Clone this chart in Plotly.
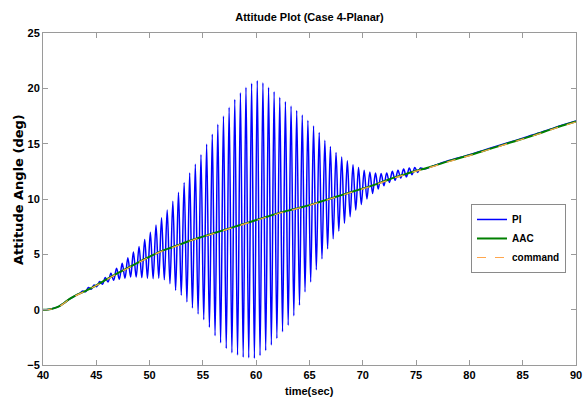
import plotly.graph_objects as go

# ---------------- data ----------------
x_ticks = [40, 45, 50, 55, 60, 65, 70, 75, 80, 85, 90]
y_ticks = [-5, 0, 5, 10, 15, 20, 25]

t_ref = [40, 40.5, 41, 41.5, 42, 42.5, 43, 44, 45, 46, 47, 48, 49, 50, 51, 52, 53, 54,
         55, 56, 57, 58, 59, 60, 61, 62, 63, 64, 65, 66, 67, 68, 69, 70, 71, 72, 73,
         74, 75, 76, 78, 80, 82, 84, 86, 88, 90]
aac = [0.0, 0.02, 0.12, 0.3, 0.62, 0.97, 1.25, 1.7, 2.2, 2.75, 3.3, 3.8, 4.3, 4.8, 5.25,
       5.6, 5.95, 6.3, 6.6, 6.9, 7.2, 7.5, 7.8, 8.1, 8.4, 8.7, 8.95, 9.2, 9.45, 9.75,
       10.05, 10.35, 10.65, 10.95, 11.25, 11.6, 11.95, 12.25, 12.55, 12.8, 13.4, 13.95,
       14.55, 15.15, 15.75, 16.4, 17.0]
command = [0.0, 0.01, 0.1, 0.28, 0.6, 0.95, 1.23, 1.68, 2.18, 2.72, 3.27, 3.77, 4.27,
           4.77, 5.22, 5.57, 5.92, 6.27, 6.57, 6.87, 7.17, 7.47, 7.77, 8.07, 8.37, 8.67,
           8.92, 9.17, 9.42, 9.72, 10.02, 10.32, 10.62, 10.92, 11.22, 11.57, 11.92,
           12.22, 12.52, 12.77, 13.37, 13.92, 14.52, 15.12, 15.72, 16.37, 16.97]

# PI response: smooth start, oscillation peaks / troughs, smooth end
pi_start_t = [40, 40.5, 41, 41.5, 42, 42.5, 43, 43.4]
pi_start_v = [0.0, 0.02, 0.12, 0.3, 0.62, 0.97, 1.25, 1.45]

pi_peak_t = [43.73, 44.26, 44.79, 45.32, 45.84, 46.37, 46.90, 47.43, 47.96, 48.48,
             49.01, 49.54, 50.07, 50.60, 51.12, 51.65, 52.18, 52.71, 53.24, 53.76,
             54.29, 54.82, 55.35, 55.88, 56.40, 56.93, 57.46, 57.99, 58.52, 59.04,
             59.57, 60.10, 60.63, 61.16, 61.68, 62.21, 62.74, 63.27, 63.80, 64.32,
             64.85, 65.38, 65.91, 66.44, 66.96, 67.49, 68.02, 68.55, 69.08, 69.60,
             70.13, 70.66, 71.19, 71.72, 72.24, 72.77, 73.30, 73.83, 74.36, 74.88,
             75.41]
pi_peak_v = [1.68, 2.0, 2.22, 2.55, 2.9, 3.3, 3.75, 4.2, 4.7, 5.2,
             5.7, 6.35, 7.0, 7.65, 8.3, 9.0, 9.8, 10.6, 11.5, 12.35,
             13.15, 14.0, 14.95, 15.85, 16.75, 17.5, 18.3, 19.0, 19.6, 20.1,
             20.45, 20.7, 20.5, 20.1, 19.7, 19.2, 18.8, 18.4, 18.0, 17.6,
             17.1, 16.6, 16.0, 15.3, 14.75, 14.2, 13.8, 13.45, 13.1, 12.85,
             12.6, 12.45, 12.35, 12.3, 12.35, 12.5, 12.6, 12.7, 12.8, 12.85,
             12.8]

pi_trough_t = [43.99, 44.52, 45.05, 45.58, 46.10, 46.63, 47.16, 47.69, 48.22, 48.74,
               49.27, 49.80, 50.33, 50.86, 51.38, 51.91, 52.44, 52.97, 53.50, 54.02,
               54.55, 55.08, 55.61, 56.14, 56.66, 57.19, 57.72, 58.25, 58.78, 59.30,
               59.83, 60.36, 60.89, 61.42, 61.94, 62.47, 63.00, 63.53, 64.06, 64.58,
               65.11, 65.64, 66.17, 66.70, 67.22, 67.75, 68.28, 68.81, 69.34, 69.86,
               70.39, 70.92, 71.45, 71.98, 72.50, 73.03, 73.56, 74.09, 74.62, 75.14]
pi_trough_v = [1.62, 1.85, 2.08, 2.3, 2.5, 2.65, 2.75, 2.85, 2.95, 2.95,
               2.9, 2.85, 2.8, 2.85, 2.7, 2.35, 1.75, 1.3, 0.7, 0.15,
               -0.4, -0.9, -1.6, -2.35, -3.0, -3.5, -3.9, -4.1, -4.3, -4.35,
               -4.4, -4.15, -3.7, -3.2, -2.6, -2.0, -1.4, -0.55, 0.4, 1.6,
               2.5, 3.6, 4.6, 5.5, 6.4, 7.1, 7.8, 8.4, 9.0, 9.5,
               10.0, 10.5, 10.9, 11.2, 11.5, 11.7, 11.9, 12.0, 12.2, 12.4]

pi_end_t = [75.8, 76.5, 78, 80, 82, 84, 86, 88, 90]
pi_end_v = [12.7, 12.95, 13.45, 14.0, 14.6, 15.2, 15.8, 16.45, 17.05]

# ---------------- figure ----------------
pts = sorted(zip(pi_start_t + pi_peak_t + pi_trough_t + pi_end_t,
                 pi_start_v + pi_peak_v + pi_trough_v + pi_end_v))
pi_t = [p[0] for p in pts]
pi_v = [p[1] for p in pts]

FONT = "Liberation Sans, Arial, sans-serif"
WIDE = "DejaVu Sans, Verdana, sans-serif"

fig = go.Figure()
fig.add_trace(go.Scatter(x=pi_t, y=pi_v, mode="lines", name="PI",
                         line=dict(color="#0000ff", width=1.5, shape="spline", smoothing=1)))
fig.add_trace(go.Scatter(x=t_ref, y=aac, mode="lines", name="AAC",
                         line=dict(color="#008000", width=2, shape="spline")))
fig.add_trace(go.Scatter(x=t_ref, y=command, mode="lines", name="command",
                         line=dict(color="#ffa64d", width=1.2, dash="dash", shape="spline")))

axis_common = dict(
    showgrid=False, zeroline=False, showline=True, linecolor="#9a9a9a", linewidth=1,
    mirror="ticks", ticks="inside", ticklen=5, tickcolor="#9a9a9a", automargin=False,
    tickfont=dict(family=FONT, size=11, color="black", weight="bold"),
)

PLOT_H = 332
fig.update_layout(
    width=587, height=398,
    margin=dict(l=43, r=11, t=33, b=33),
    paper_bgcolor="white", plot_bgcolor="white",
    font=dict(family=FONT, color="black"),
    title=dict(text="Attitude Plot (Case 4-Planar)", x=0.5, xref="paper", xanchor="center",
               y=1 - 17 / 398, yanchor="middle",
               font=dict(family=FONT, size=11, color="black", weight="bold")),
    xaxis=dict(range=[40, 90], tickvals=x_ticks, **axis_common),
    yaxis=dict(range=[-5, 25], tickvals=y_ticks, **axis_common),
    legend=dict(x=0.803, y=0.485, xanchor="left", yanchor="top",
                bgcolor="white", bordercolor="#8a8a8a", borderwidth=1,
                font=dict(family=FONT, size=10, color="black", weight="bold"),
                tracegroupgap=0, itemwidth=30),
    showlegend=True,
    annotations=[
        dict(text="time(sec)", xref="paper", yref="paper", x=0.5, y=-26.5 / PLOT_H,
             xanchor="center", yanchor="middle", showarrow=False,
             font=dict(family=FONT, size=11, color="black", weight="bold")),
        dict(text="Attitude Angle (deg)", xref="paper", yref="paper", x=-25 / 533, y=0.527,
             xanchor="center", yanchor="middle", showarrow=False, textangle=-90,
             font=dict(family=WIDE, size=13, color="black", weight="bold")),
    ],
)

fig.write_html("out.html", config={"displayModeBar": False},
               post_script="document.body.style.margin='0px';")
